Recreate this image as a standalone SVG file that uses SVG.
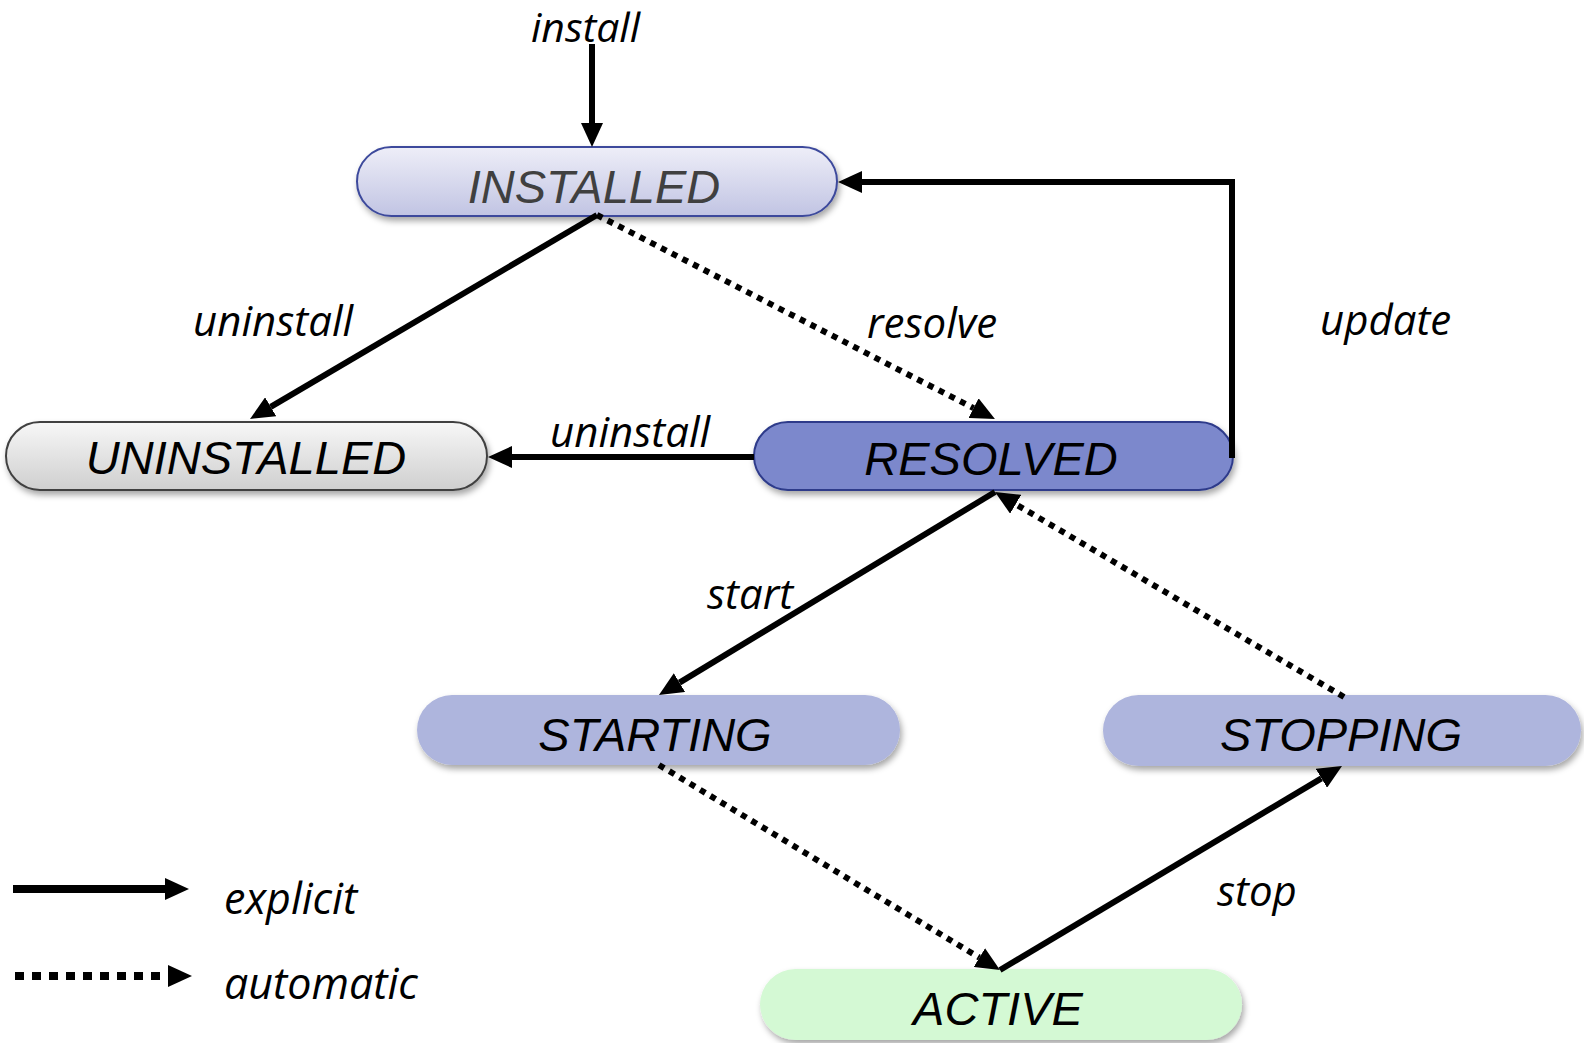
<svg xmlns="http://www.w3.org/2000/svg" width="1584" height="1043" viewBox="0 0 1584 1043">
<style>
.node text{font-family:"Liberation Sans",Arial,sans-serif;font-style:italic;font-size:47px;text-anchor:middle;fill:#000}
.lbl{font-family:"Open Sans","Noto Sans",sans-serif;font-style:italic;font-size:42px;fill:#000}
.solid{fill:none;stroke:#000;stroke-width:6}
.dot{fill:none;stroke:#000;stroke-width:6;stroke-dasharray:6 6}
</style>
<defs>
<marker id="ah" viewBox="0 0 24 22" refX="0" refY="11" markerWidth="24" markerHeight="22" markerUnits="userSpaceOnUse" orient="auto">
<path d="M0,0 L24,11 L0,22 z" fill="#000"/>
</marker>
<linearGradient id="gInst" x1="0" y1="0" x2="0" y2="1">
<stop offset="0" stop-color="#eeeef8"/><stop offset="1" stop-color="#c1c4e3"/>
</linearGradient>
<linearGradient id="gUn" x1="0" y1="0" x2="0" y2="1">
<stop offset="0" stop-color="#f7f7f7"/><stop offset="1" stop-color="#cfcfcf"/>
</linearGradient>
<filter id="sh" x="-5%" y="-20%" width="110%" height="150%">
<feDropShadow dx="2" dy="4" stdDeviation="3" flood-color="#000" flood-opacity="0.35"/>
</filter>
</defs>

<g id="INSTALLED" class="node">
<rect x="357" y="147" width="480" height="69" rx="34.5" fill="url(#gInst)" stroke="#3d4a9c" stroke-width="2" filter="url(#sh)"/>
<text x="594" y="203" style="fill:#404040">INSTALLED</text>
</g>
<g id="UNINSTALLED" class="node">
<rect x="6" y="422" width="481" height="68" rx="34" fill="url(#gUn)" stroke="#404040" stroke-width="2" filter="url(#sh)"/>
<text x="246" y="474">UNINSTALLED</text>
</g>
<g id="RESOLVED" class="node">
<rect x="754" y="422" width="479" height="68" rx="34" fill="#7b88cc" stroke="#2d3a8a" stroke-width="2" filter="url(#sh)"/>
<text x="991" y="475">RESOLVED</text>
</g>
<g id="STARTING" class="node">
<rect x="417" y="695" width="483" height="70" rx="35" fill="#aeb5dd" filter="url(#sh)"/>
<text x="655" y="751">STARTING</text>
</g>
<g id="STOPPING" class="node">
<rect x="1103" y="695" width="478" height="71" rx="35.5" fill="#aeb5dd" filter="url(#sh)"/>
<text x="1341" y="751">STOPPING</text>
</g>
<g id="ACTIVE" class="node">
<rect x="760" y="969" width="482" height="71" rx="35.5" fill="#d4f9d4" filter="url(#sh)"/>
<text x="998" y="1025">ACTIVE</text>
</g>

<g id="connectors">
<path class="solid" d="M592,44 L592,123" marker-end="url(#ah)"/>
<path class="solid" d="M597,215 L270.7,406.8" marker-end="url(#ah)"/>
<path class="dot" d="M597,215 L973.6,408.1" marker-end="url(#ah)"/>
<path class="solid" d="M1232,458 L1232,182 L862,182" marker-end="url(#ah)"/>
<path class="solid" d="M754,457 L512,457" marker-end="url(#ah)"/>
<path class="solid" d="M995,492 L679.5,682.6" marker-end="url(#ah)"/>
<path class="dot" d="M659,765 L979.4,957.6" marker-end="url(#ah)"/>
<path class="solid" d="M1000,970 L1321.4,778.3" marker-end="url(#ah)"/>
<path class="dot" d="M1344,697 L1015.7,504.2" marker-end="url(#ah)"/>
<path class="solid" d="M13,889 L165,889" style="stroke-width:8" marker-end="url(#ah)"/>
<path class="dot" d="M15,976 L168,976" style="stroke-width:8;stroke-dasharray:9 8" marker-end="url(#ah)"/>
</g>

<g id="labels">
<text class="lbl" x="531" y="42" style="font-size:41px">install</text>
<text class="lbl" x="193" y="336">uninstall</text>
<text class="lbl" x="867" y="338">resolve</text>
<text class="lbl" x="1320" y="335">update</text>
<text class="lbl" x="550" y="447">uninstall</text>
<text class="lbl" x="707" y="609">start</text>
<text class="lbl" x="1217" y="906">stop</text>
<text class="lbl" x="224" y="914" style="font-size:43px">explicit</text>
<text class="lbl" x="224" y="999" style="font-size:43px">automatic</text>
</g>
</svg>
